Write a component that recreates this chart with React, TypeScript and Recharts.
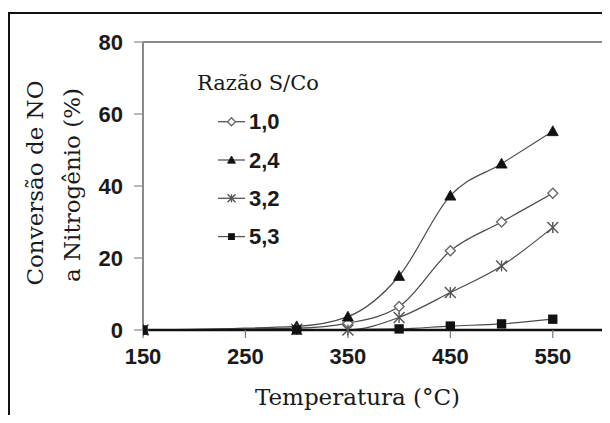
import React from 'react';
import { LineChart, Line, XAxis, YAxis, ReferenceLine, Legend, Label } from 'recharts';

// Temperature (°C) at which each conversion was measured
const temperatures = [150, 300, 350, 400, 450, 500, 550];

// NO → N2 conversion (%) for each S/Co ratio
const ratio10 = [0, 0.5, 1.9, 6.5, 22.0, 30.0, 38.0];
const ratio24 = [0, 1.0, 3.7, 15.0, 37.3, 46.2, 55.2];
const ratio32 = [0, 0.2, 0, 3.5, 10.4, 17.8, 28.5];
const ratio53 = [0, 0, null, 0.3, 1.1, 1.7, 3.0];

const seriesNames = ['1,0', '2,4', '3,2', '5,3'];
const xTicks = [150, 250, 350, 450, 550];
const yTicks = [0, 20, 40, 60, 80];

const SERIF = '"DejaVu Serif", serif';
const SANS = '"Liberation Sans", Arial, sans-serif';

type Shape = 'diamond' | 'triangle' | 'star' | 'square';

const toPoints = (values: (number | null)[]) =>
  temperatures
    .map((t, i) => ({ t, v: values[i] }))
    .filter((p) => p.v !== null);

const series: { name: string; shape: Shape; data: { t: number; v: number | null }[] }[] = [
  { name: seriesNames[0], shape: 'diamond', data: toPoints(ratio10) },
  { name: seriesNames[1], shape: 'triangle', data: toPoints(ratio24) },
  { name: seriesNames[2], shape: 'star', data: toPoints(ratio32) },
  { name: seriesNames[3], shape: 'square', data: toPoints(ratio53) },
];

function Marker({ shape, cx, cy, r }: { shape: Shape; cx: number; cy: number; r: number }) {
  if (cx == null || cy == null) return null;
  switch (shape) {
    case 'diamond':
      return (
        <polygon
          points={`${cx},${cy - r} ${cx + r},${cy} ${cx},${cy + r} ${cx - r},${cy}`}
          fill="#fff"
          stroke="#6a6a6a"
          strokeWidth={1.4}
        />
      );
    case 'triangle':
      return (
        <polygon
          points={`${cx},${cy - r} ${cx + r},${cy + r * 0.8} ${cx - r},${cy + r * 0.8}`}
          fill="#111"
          stroke="#111"
          strokeWidth={0.8}
        />
      );
    case 'star':
      return (
        <g stroke="#555" strokeWidth={1.4}>
          <line x1={cx - r} y1={cy - r} x2={cx + r} y2={cy + r} />
          <line x1={cx - r} y1={cy + r} x2={cx + r} y2={cy - r} />
          <line x1={cx} y1={cy - r} x2={cx} y2={cy + r} />
        </g>
      );
    default:
      return <rect x={cx - r * 0.85} y={cy - r * 0.85} width={r * 1.7} height={r * 1.7} fill="#111" />;
  }
}

const makeDot = (shape: Shape, r: number) => (props: any) => (
  <Marker key={`${shape}-${props.index}`} shape={shape} cx={props.cx} cy={props.cy} r={r} />
);

const renderLegend = (props: any) => {
  const payload = props.payload || [];
  return (
    <svg width={150} height={200} style={{ display: 'block', overflow: 'visible' }}>
      <text x={17} y={30} style={{ fontFamily: SERIF, fontSize: 21 }} fill="#1a1a1a">
        Razão S/Co
      </text>
      {payload.map((entry: any, i: number) => {
        const s = series.find((x) => x.name === entry.value) || series[i];
        const cy = 61.7 + i * 38.3;
        return (
          <g key={`leg-${i}`}>
            <line x1={38} x2={65} y1={cy} y2={cy} stroke="#555" strokeWidth={1.3} />
            <Marker shape={s.shape} cx={51.5} cy={cy} r={4} />
            <text
              x={69}
              y={cy + 7.5}
              style={{ fontFamily: SANS, fontWeight: 'bold', fontSize: 22 }}
              fill="#1a1a1a"
            >
              {entry.value}
            </text>
          </g>
        );
      })}
    </svg>
  );
};

const YTitle = (props: any) => {
  const vb = props.viewBox || { x: 0, y: 42, width: 143, height: 288 };
  const cy = vb.y + vb.height / 2 - 3;
  return (
    <g style={{ fontFamily: SERIF, fontSize: 23 }} fill="#1a1a1a">
      <text transform={`translate(${vb.x + 43},${cy}) rotate(-90)`} textAnchor="middle">
        Conversão de NO
      </text>
      <text transform={`translate(${vb.x + 80},${cy + 2}) rotate(-90)`} textAnchor="middle">
        a Nitrogênio (%)
      </text>
    </g>
  );
};

const XTitle = (props: any) => {
  const vb = props.viewBox || { x: 143, y: 330, width: 461, height: 93 };
  return (
    <text
      x={vb.x + vb.width / 2 - 16}
      y={405}
      textAnchor="middle"
      style={{ fontFamily: SERIF, fontSize: 23 }}
      fill="#1a1a1a"
    >
      Temperatura (°C)
    </text>
  );
};

const tickStyle = { fontFamily: SANS, fontWeight: 'bold' as const, fontSize: 22, fill: '#1a1a1a' };

export default function App() {
  return (
    <div style={{ position: 'relative', width: 610, height: 423, margin: -8, overflow: 'hidden', background: '#fff' }}>
      <div
        style={{
          position: 'absolute',
          left: 8,
          top: 12,
          width: 620,
          height: 420,
          border: '2px solid #111',
          boxSizing: 'border-box',
        }}
      />
      <div style={{ position: 'absolute', left: 0, top: 0 }}>
        <LineChart width={610} height={423} margin={{ top: 42, right: 6, left: 0, bottom: 0 }}>
          <XAxis
            dataKey="t"
            type="number"
            domain={[150, 600]}
            ticks={xTicks}
            allowDataOverflow
            height={93}
            stroke="#111"
            strokeWidth={2.5}
            tickSize={8}
            tickMargin={10}
            tickLine={{ stroke: '#777', strokeWidth: 1.2 }}
            tick={tickStyle}
          >
            <Label content={XTitle} />
          </XAxis>
          <YAxis
            type="number"
            domain={[0, 80]}
            ticks={yTicks}
            width={143}
            stroke="#8a8a8a"
            strokeWidth={2}
            tickSize={9}
            tickMargin={11}
            tickLine={{ stroke: '#8a8a8a', strokeWidth: 1.2 }}
            tick={tickStyle}
          >
            <Label content={YTitle} />
          </YAxis>
          <ReferenceLine y={80} stroke="#8a8a8a" strokeWidth={2} />
          <ReferenceLine x={600} stroke="#444" strokeWidth={2} />
          {series.map((s) => (
            <Line
              key={s.name}
              data={s.data}
              dataKey="v"
              name={s.name}
              type="monotone"
              stroke="#4a4a4a"
              strokeWidth={1.2}
              dot={makeDot(s.shape, s.shape === 'diamond' ? 5 : 5.5)}
              activeDot={false}
              legendType="line"
              isAnimationActive={false}
            />
          ))}
          <Legend
            layout="vertical"
            align="center"
            verticalAlign="middle"
            content={renderLegend}
            wrapperStyle={{ position: 'absolute', left: 180, top: 60, width: 150, height: 200 }}
          />
        </LineChart>
      </div>
    </div>
  );
}
